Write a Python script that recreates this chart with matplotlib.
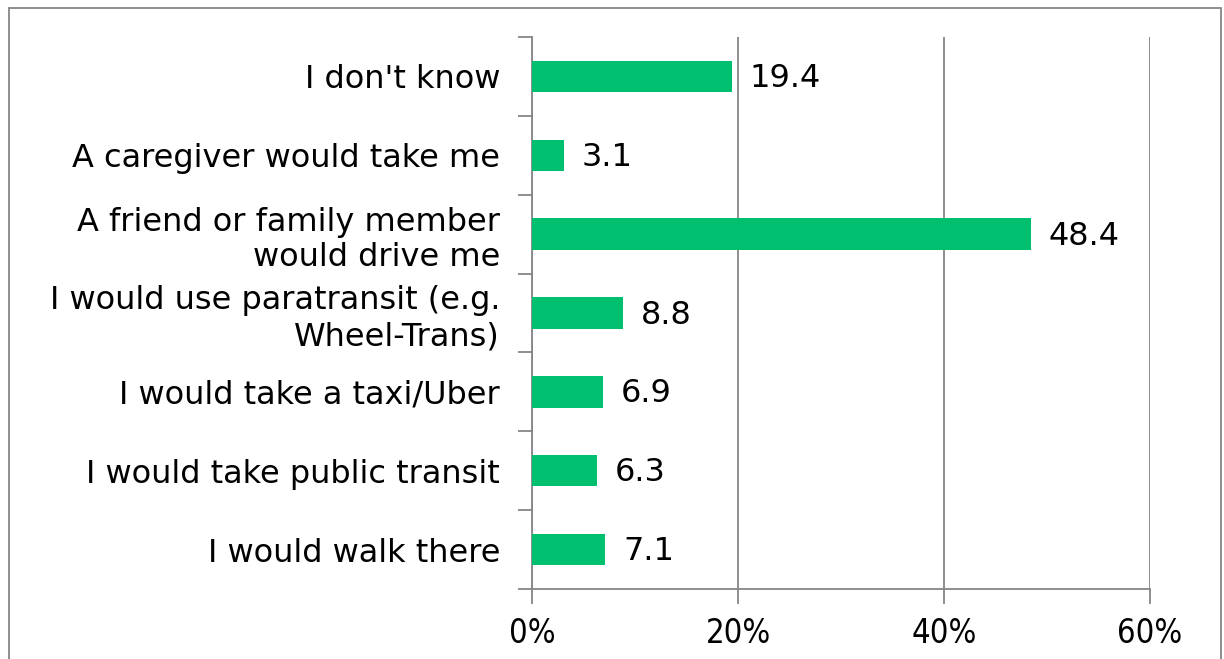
import matplotlib.pyplot as plt
import matplotlib.patches as mpatches
from matplotlib.ticker import FixedLocator, PercentFormatter

labels = ["I don't know", "A caregiver would take me",
          "A friend or family member\nwould drive me",
          "I would use paratransit (e.g.\nWheel-Trans)",
          "I would take a taxi/Uber", "I would take public transit",
          "I would walk there"]
values = [19.4, 3.1, 48.4, 8.8, 6.9, 6.3, 7.1]
xticks = [0, 20, 40, 60]

grey = '#868686'
green = '#00BF6F'

fig = plt.figure(figsize=(12.24, 6.59), dpi=100)
ax = fig.add_axes([532/1224, 1-589/659, 618/1224, 552/659])

ypos = list(range(len(labels)))[::-1]
ax.barh(ypos, values, height=0.4, color=green, zorder=3)
for y, v in zip(ypos, values):
    ax.annotate(f'{v:.1f}', (v, y), xytext=(13, -1.5), textcoords='offset points',
                va='center', ha='left', fontsize=23, family='DejaVu Sans')

ax.set_xlim(0, 60)
ax.set_ylim(-0.5, len(labels) - 0.5)
ax.set_xticks(xticks)
ax.xaxis.set_major_formatter(PercentFormatter(decimals=0))
ax.set_yticks(ypos)
ax.set_yticklabels(labels, fontsize=23, family='DejaVu Sans', linespacing=1.2)
ax.yaxis.set_minor_locator(FixedLocator([i - 0.5 for i in range(len(labels) + 1)]))
ax.tick_params(axis='y', which='major', length=0, pad=23)
ax.tick_params(axis='y', which='minor', length=10, color=grey, width=1.3, direction='out')
ax.tick_params(axis='x', length=11, color=grey, width=1.3, pad=9, labelsize=23.5)
for t in ax.get_xticklabels():
    t.set_family('DejaVu Sans')
    t.set_fontstretch('condensed')
ax.grid(axis='x', color=grey, linewidth=1.3, zorder=0)
for s in ['top', 'right']:
    ax.spines[s].set_visible(False)
for s in ['left', 'bottom']:
    ax.spines[s].set_color(grey)
    ax.spines[s].set_linewidth(1.3)

fig.patches.append(mpatches.Rectangle((9/1224, -0.1), 1212/1224, 1.1 - 8/659,
                                      transform=fig.transFigure, fill=False,
                                      edgecolor=grey, linewidth=1.3))
fig.savefig('out.png', dpi=100)
